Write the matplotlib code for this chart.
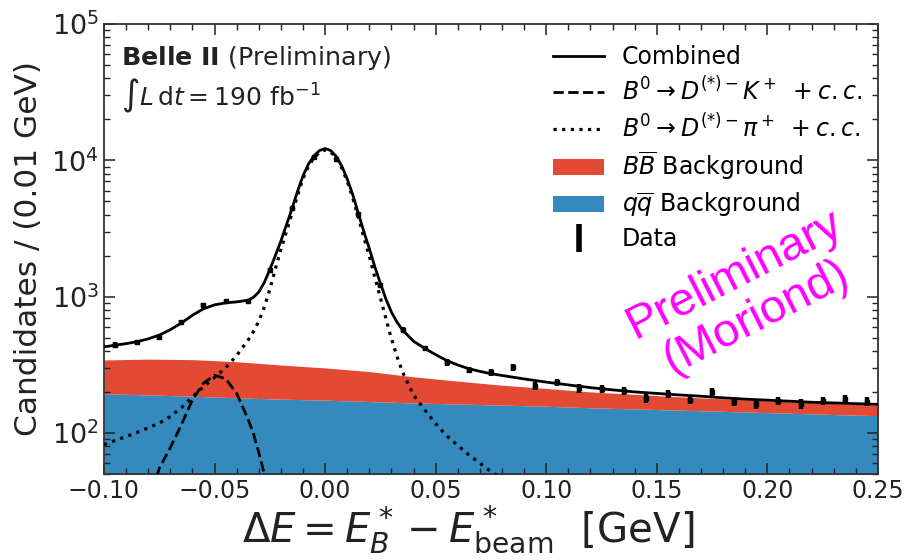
import numpy as np
import matplotlib
matplotlib.use('Agg')
import matplotlib.pyplot as plt
from matplotlib.lines import Line2D
from matplotlib.patches import Patch
from matplotlib.ticker import MultipleLocator

# fit curves
curve_x = [-0.100, -0.095, -0.090, -0.085, -0.080, -0.075, -0.070, -0.065, -0.060, -0.055,
           -0.050, -0.045, -0.040, -0.035, -0.0325, -0.030, -0.0275, -0.025, -0.0225, -0.020,
           -0.0175, -0.015, -0.0125, -0.010, -0.0075, -0.005, -0.0025, 0.0, 0.0025, 0.005,
           0.0075, 0.010, 0.0125, 0.015, 0.0175, 0.020, 0.0225, 0.025, 0.0275, 0.030,
           0.0325, 0.035, 0.040, 0.045, 0.050, 0.055, 0.060, 0.065, 0.070, 0.075,
           0.080, 0.090, 0.100, 0.110, 0.120, 0.130, 0.140, 0.150, 0.160, 0.170,
           0.180, 0.190, 0.200, 0.210, 0.220, 0.230, 0.240, 0.250]
combined = [428, 440, 452, 467, 490, 522, 572, 640, 730, 815,
            870, 900, 915, 940, 985, 1080, 1270, 1580, 2000, 2560,
            3350, 4400, 5900, 7700, 9400, 10800, 11800, 12200, 11800, 10700,
            9100, 7300, 5600, 4100, 3000, 2250, 1650, 1250, 960, 770,
            650, 570, 470, 418, 375, 340, 315, 296, 283, 272,
            264, 249, 236, 225, 215, 207, 200, 195, 190, 186,
            181, 177, 174, 171, 168, 166, 164, 162]
dk_curve = [3, 5, 9, 16, 30, 55, 78, 115, 175, 232,
            265, 250, 195, 128, 100, 72, 50, 33, 21, 13,
            8, 5, 3, 2, 1, 1, 1, 1, 1, 1,
            1, 1, 1, 1, 1, 1, 1, 1, 1, 1,
            1, 1, 1, 1, 1, 1, 1, 1, 1, 1,
            1, 1, 1, 1, 1, 1, 1, 1, 1, 1,
            1, 1, 1, 1, 1, 1, 1, 1]
dpi_curve = [82, 88, 94, 101, 109, 118, 132, 153, 184, 218,
             255, 300, 370, 475, 550, 660, 840, 1130, 1600, 2220,
             3000, 4050, 5500, 7350, 9050, 10450, 11450, 11900, 11500, 10400,
             8800, 7000, 5300, 3820, 2720, 1980, 1380, 980, 690, 490,
             365, 280, 190, 148, 117, 95, 81, 69, 60, 52,
             46, 37, 30, 25, 21, 18, 15, 13, 11, 10,
             9, 8, 7, 6, 5, 5, 4, 4]

# backgrounds (stacked)
bkg_x = [-0.10, -0.08, -0.06, -0.04, -0.02, 0.00, 0.02, 0.04, 0.06, 0.08,
         0.10, 0.12, 0.14, 0.16, 0.18, 0.20, 0.22, 0.24, 0.25]
qq_bkg = [194, 190, 186, 181, 177, 174, 170, 166, 163, 160,
          157, 153, 150, 147, 144, 141, 138, 135, 134]
bb_bkg = [149, 158, 159, 152, 138, 126, 112, 92, 77, 64,
          55, 47, 42, 37, 34, 31, 29, 27, 26]

# data points
data_x = [-0.095, -0.085, -0.075, -0.065, -0.055, -0.045, -0.035, -0.025, -0.015, -0.005,
          0.005, 0.015, 0.025, 0.035, 0.045, 0.055, 0.065, 0.075, 0.085, 0.095,
          0.105, 0.115, 0.125, 0.135, 0.145, 0.155, 0.165, 0.175, 0.185, 0.195,
          0.205, 0.215, 0.225, 0.235, 0.245]
data_y = [443, 462, 502, 647, 871, 922, 922, 1571, 4480, 10570,
          10160, 4020, 1219, 571, 417, 330, 290, 279, 303, 220,
          235, 212, 210, 204, 180, 193, 175, 199, 170, 162,
          172, 163, 172, 177, 170]
data_err = [21, 21, 22, 25, 30, 30, 30, 40, 67, 103,
            101, 63, 35, 24, 20, 18, 17, 17, 17, 15,
            15, 15, 14, 14, 13, 14, 13, 14, 13, 13,
            13, 13, 13, 13, 13]

red = '#E24A33'
blue = '#348ABD'

plt.rcParams['mathtext.fontset'] = 'dejavusans'
plt.rcParams['font.family'] = 'DejaVu Sans'

fig = plt.figure(figsize=(9.05, 5.6), dpi=100)
ax = fig.add_axes([0.1149, 0.1536, 0.8552, 0.8036])

bb_top = np.add(qq_bkg, bb_bkg)
ax.fill_between(bkg_x, 1, qq_bkg, color=blue, lw=0, zorder=1)
ax.fill_between(bkg_x, qq_bkg, bb_top, color=red, lw=0, zorder=1)

ax.plot(curve_x, dk_curve, color='k', lw=2, ls='--', zorder=3)
ax.plot(curve_x, dpi_curve, color='k', lw=2.3, ls=(0, (1, 1.7)), zorder=3)
ax.plot(curve_x, combined, color='k', lw=2, zorder=4)
ax.errorbar(data_x, data_y, yerr=data_err, fmt='s', color='k', ms=3.5,
            elinewidth=3.2, capsize=0, zorder=5)

ax.set_yscale('log')
ax.set_xlim(-0.1, 0.25)
ax.set_ylim(50, 1e5)
ax.xaxis.set_major_locator(MultipleLocator(0.05))
ax.xaxis.set_minor_locator(MultipleLocator(0.01))
ax.tick_params(which='both', direction='in', top=True, right=True, colors='#222222')
ax.tick_params(axis='x', labelsize=17)
ax.tick_params(axis='y', labelsize=19.5)
ax.tick_params(which='major', length=8, width=1.1)
ax.tick_params(which='minor', length=4.5, width=1.0)
for sp in ax.spines.values():
    sp.set_color('#333333')
    sp.set_linewidth(1.3)

ax.set_ylabel('Candidates / (0.01 GeV)', fontsize=22.5, color='#222222', labelpad=6)
ax.set_xlabel(r'$\Delta E = E^*_B - E^*_{\mathrm{beam}}\ \ [\mathrm{GeV}]$', fontsize=29,
              color='#222222', x=0.47, labelpad=0)

ax.text(0.022, 0.909, r'$\mathbf{Belle\ II}$ (Preliminary)', transform=ax.transAxes,
        fontsize=18.3, va='baseline', color='#222222')
ax.text(0.022, 0.818, r'$\int L\,\mathrm{d}t = 190\ \mathrm{fb}^{-1}$', transform=ax.transAxes,
        fontsize=18, va='baseline', color='#222222')

ax.text(0.828, 0.395, 'Preliminary\n(Moriond)', transform=ax.transAxes, rotation=27,
        rotation_mode='anchor', ha='center', va='center', multialignment='center',
        fontsize=34, family='Liberation Sans', color='#ff00ff', linespacing=1.12)

handles = [
    Line2D([], [], color='k', lw=2),
    Line2D([], [], color='k', lw=2, ls='--'),
    Line2D([], [], color='k', lw=2.3, ls=(0, (1, 1.7))),
    Patch(color=red, lw=0),
    Patch(color=blue, lw=0),
    Line2D([], [], color='k', marker='|', ls='none', ms=20, mew=4),
]
labels = [
    'Combined',
    r'$B^0 \rightarrow D^{(*)-}K^+\ + c.c.$',
    r'$B^0 \rightarrow D^{(*)-}\pi^+\ + c.c.$',
    r'$B\overline{B}$ Background',
    r'$q\overline{q}$ Background',
    'Data',
]
ax.legend(handles, labels, loc='upper left', bbox_to_anchor=(0.553, 1.0), frameon=False,
          fontsize=17, handlelength=2.15, handletextpad=0.75, labelspacing=0.33)

fig.savefig('out.png', dpi=100)
